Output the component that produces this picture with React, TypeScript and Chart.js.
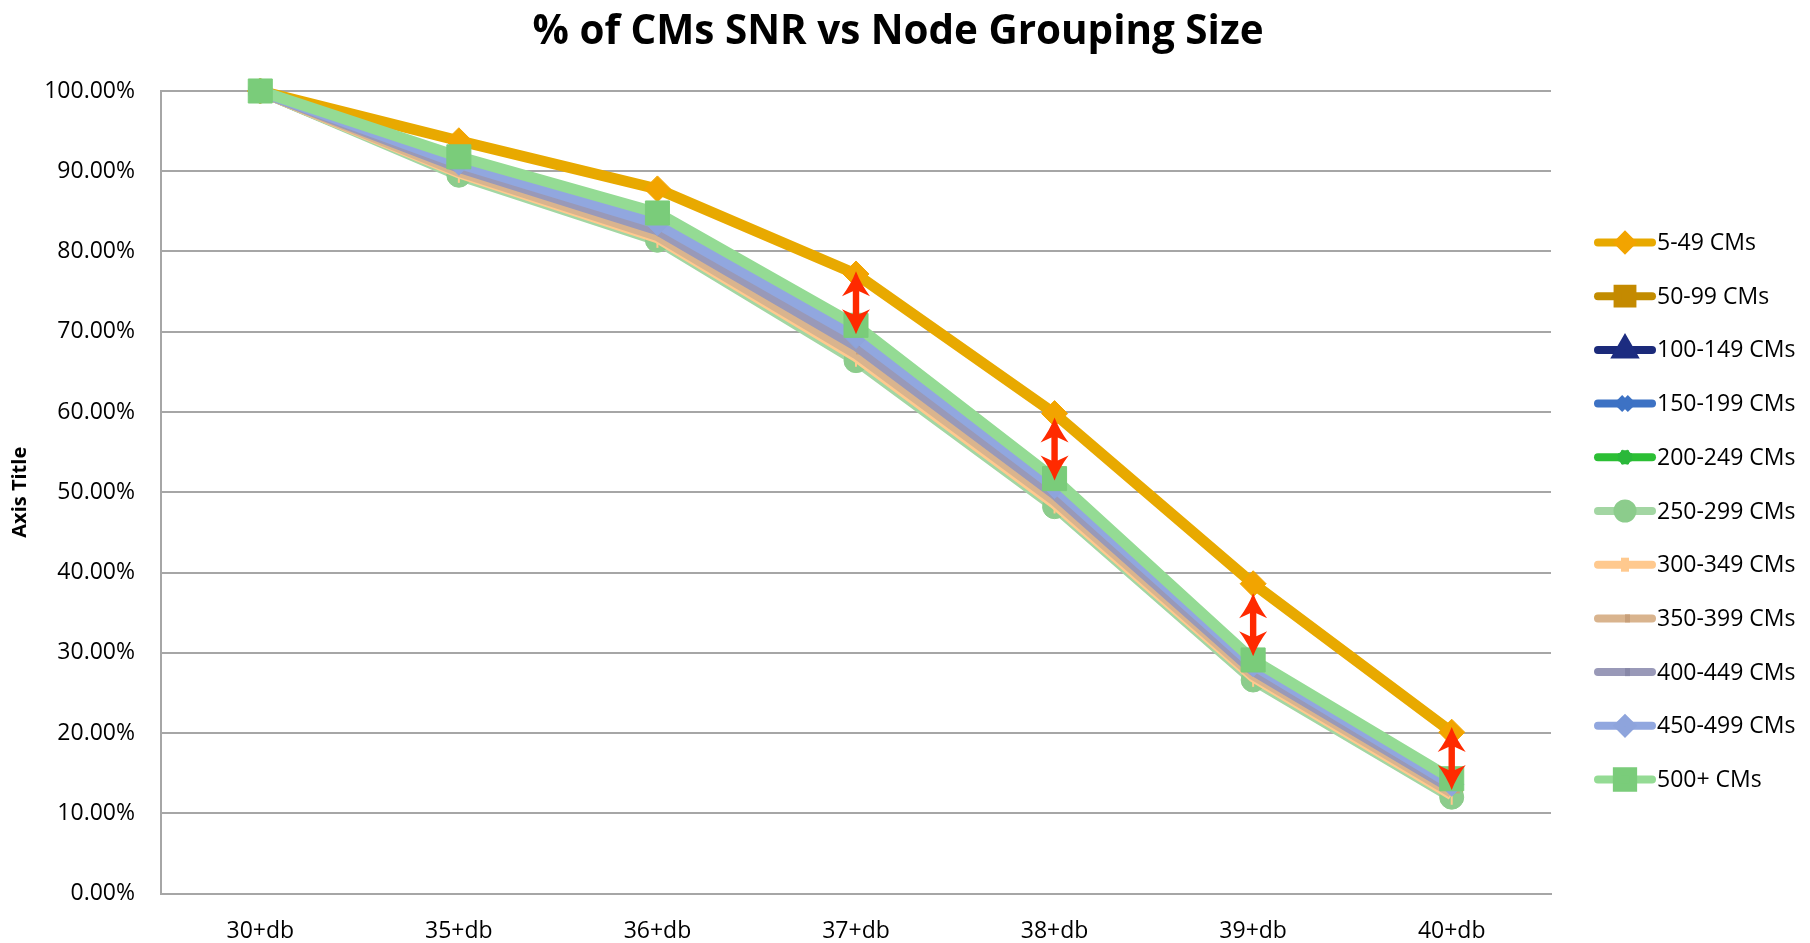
import React, { useEffect, useRef } from "react";
import { Chart, registerables } from "chart.js";
import { drawPoint } from "chart.js/helpers";

Chart.register(...registerables);

const TITLE = "% of CMs SNR vs Node Grouping Size";
const Y_AXIS_TITLE = "Axis Title";
const categories = ["30+db", "35+db", "36+db", "37+db", "38+db", "39+db", "40+db"];
const yTicks = [0, 10, 20, 30, 40, 50, 60, 70, 80, 90, 100];

const seriesNames = [
  "5-49 CMs", "50-99 CMs", "100-149 CMs", "150-199 CMs", "200-249 CMs",
  "250-299 CMs", "300-349 CMs", "350-399 CMs", "400-449 CMs", "450-499 CMs", "500+ CMs",
];

const s5_49 = [100, 93.8, 87.8, 77.2, 59.8, 38.6, 20.1];
const s50_99 = [100, 90.2, 82.2, 67.6, 49.2, 27.3, 12.7];
const s100_149 = [100, 89.7, 81.6, 66.7, 48.5, 26.8, 12.2];
const s150_199 = [100, 90.4, 82.5, 68.0, 49.6, 27.6, 13.0];
const s200_249 = [100, 90.6, 82.9, 68.6, 50.1, 28.0, 13.3];
const s250_299 = [100, 89.5, 81.4, 66.4, 48.2, 26.6, 12.0];
const s300_349 = [100, 89.8, 81.7, 66.9, 48.6, 27.0, 12.3];
const s350_399 = [100, 90.0, 82.0, 67.3, 49.0, 27.3, 12.6];
const s400_449 = [100, 90.5, 82.7, 68.3, 49.8, 27.8, 13.1];
const s450_499 = [100, 91.0, 83.5, 69.4, 50.7, 28.5, 13.6];
const s500plus = [100, 91.8, 84.8, 70.8, 51.7, 29.1, 14.3];

const seriesValues = [
  s5_49, s50_99, s100_149, s150_199, s200_249, s250_299,
  s300_349, s350_399, s400_449, s450_499, s500plus,
];

// double arrows between the first and last series at these categories
const arrowCategories = ["37+db", "38+db", "39+db", "40+db"];

const lineColors = [
  "#e8a900", "#c28c00", "#1b2a7a", "#3d72c4", "#2cbf35", "#a3d6a3",
  "#ffc98e", "#d9b48e", "#9999b8", "#91a7df", "#94db94",
];
const markerFill = [
  "#f2a400", "#c48a00", "#1c2c80", "#3d72c4", "#2ab83a", "#8ccc8c",
  "#ffc98e", "#c8a07a", "#8888a8", "#8ea4dc", "#7acc7a",
];
const markerStyle: any[] = [
  "rectRot", "rect", "triangle", "crossRot", "star", "circle",
  "line", "dash", "dash", "rectRot", "rect",
];
const markerRadius = [13, 15, 12, 10, 10, 12, 10, 8, 8, 12, 17];
const markerRotation = [0, 0, 0, 0, 0, 0, 90, 0, 0, 0, 0];
const legendRadius = [6.5, 10.5, 9, 8, 7, 7.5, 7, 5, 5, 6.5, 11.5];

const FONT = "'Open Sans', 'DejaVu Sans', sans-serif";

const titlePlugin = {
  id: "customTitle",
  afterDraw(chart: any) {
    const ctx = chart.ctx;
    ctx.save();
    ctx.font = `bold 42px ${FONT}`;
    ctx.fillStyle = "#000";
    ctx.textAlign = "center";
    ctx.textBaseline = "alphabetic";
    const w = ctx.measureText(TITLE).width;
    const sx = Math.min(1, 731 / w);
    ctx.translate(898, 44);
    ctx.scale(sx, 1);
    ctx.fillText(TITLE, 0, 0);
    ctx.restore();
  },
};

const legendPlugin = {
  id: "customLegend",
  afterDraw(chart: any) {
    const ctx = chart.ctx;
    ctx.save();
    const x1 = 1598, x2 = 1652, xm = 1625;
    const y0 = 242.5, dy = 53.7;
    chart.data.datasets.forEach((ds: any, i: number) => {
      const y = y0 + i * dy;
      ctx.beginPath();
      ctx.strokeStyle = lineColors[i];
      ctx.lineWidth = 8;
      ctx.lineCap = "round";
      ctx.moveTo(x1, y);
      ctx.lineTo(x2, y);
      ctx.stroke();
      ctx.lineCap = "butt";
      ctx.fillStyle = markerFill[i];
      ctx.strokeStyle = markerFill[i];
      drawPoint(ctx, {
        pointStyle: markerStyle[i],
        radius: legendRadius[i],
        rotation: markerRotation[i],
        borderWidth: 1.5,
      } as any, xm, y);
      ctx.fillStyle = "#000";
      ctx.font = `23px ${FONT}`;
      ctx.textAlign = "left";
      ctx.textBaseline = "middle";
      ctx.fillText(ds.label, 1657, y + 1);
    });
    ctx.restore();
  },
};

const arrowPlugin = {
  id: "arrows",
  afterDatasetsDraw(chart: any) {
    const ctx = chart.ctx;
    const xs = chart.scales.x;
    const ys = chart.scales.y;
    const top = seriesValues[0];
    const bot = seriesValues[seriesValues.length - 1];
    ctx.save();
    ctx.fillStyle = "#ff2a00";
    arrowCategories.forEach((c) => {
      const idx = categories.indexOf(c);
      const x = xs.getPixelForValue(idx);
      const mid = (ys.getPixelForValue(top[idx]) + ys.getPixelForValue(bot[idx])) / 2 + 3;
      const half = 31.5;
      const ya = mid - half;
      const yb = mid + half;
      const hw = 14, hh = 25, sw = 3.2, notch = 20;
      ctx.beginPath();
      ctx.moveTo(x, ya);
      ctx.quadraticCurveTo(x + 5, ya + 13, x + hw, ya + hh);
      ctx.lineTo(x + sw, ya + notch);
      ctx.lineTo(x + sw, yb - notch);
      ctx.lineTo(x + hw, yb - hh);
      ctx.quadraticCurveTo(x + 5, yb - 13, x, yb);
      ctx.quadraticCurveTo(x - 5, yb - 13, x - hw, yb - hh);
      ctx.lineTo(x - sw, yb - notch);
      ctx.lineTo(x - sw, ya + notch);
      ctx.lineTo(x - hw, ya + hh);
      ctx.quadraticCurveTo(x - 5, ya + 13, x, ya);
      ctx.closePath();
      ctx.fill();
    });
    ctx.restore();
  },
};

export default function App() {
  const ref = useRef<HTMLCanvasElement | null>(null);
  useEffect(() => {
    if (!ref.current) return;
    const n = seriesNames.length;
    const chart = new Chart(ref.current, {
      type: "line",
      data: {
        labels: categories,
        datasets: seriesNames.map((name, i) => ({
          label: name,
          data: seriesValues[i],
          borderColor: lineColors[i],
          backgroundColor: markerFill[i],
          borderWidth: 11,
          tension: 0,
          pointStyle: markerStyle[i],
          pointRadius: markerRadius[i],
          pointRotation: markerRotation[i],
          pointBackgroundColor: markerFill[i],
          pointBorderColor: markerFill[i],
          pointBorderWidth: markerStyle[i] === "line" || markerStyle[i] === "dash" || markerStyle[i] === "crossRot" || markerStyle[i] === "star" ? 2 : 1,
          pointHoverRadius: markerRadius[i],
          order: n - i,
          clip: false as any,
        })),
      },
      options: {
        responsive: false,
        animation: false,
        devicePixelRatio: 1,
        layout: { padding: { top: 91, right: 259, bottom: 0, left: 0 } },
        plugins: {
          legend: { display: false },
          title: { display: false },
          tooltip: { enabled: false },
        },
        scales: {
          x: {
            type: "category",
            offset: true,
            grid: { display: false, drawTicks: false },
            border: { display: true, color: "#a6a6a6", width: 2 },
            ticks: {
              color: "#000",
              font: { family: FONT, size: 23 },
              padding: 24,
              maxRotation: 0,
            },
            afterFit(scale: any) {
              scale.height = 49.5;
            },
          },
          y: {
            min: 0,
            max: 100,
            afterBuildTicks(scale: any) {
              scale.ticks = yTicks.map((v) => ({ value: v }));
            },
            grid: { color: "#a6a6a6", lineWidth: 2, drawTicks: false },
            border: { display: true, color: "#a6a6a6", width: 2 },
            ticks: {
              color: "#000",
              font: { family: FONT, size: 23 },
              padding: 26,
              callback: (v: any) => Number(v).toFixed(2) + "%",
            },
            title: {
              display: true,
              text: Y_AXIS_TITLE,
              color: "#000",
              font: { family: FONT, size: 20, weight: "bold" },
              padding: { top: 8, bottom: 0 },
            },
            afterFit(scale: any) {
              scale.width = 161;
            },
          },
        },
      },
      plugins: [titlePlugin, legendPlugin, arrowPlugin],
    } as any);
    return () => chart.destroy();
  }, []);
  return (
    <div style={{ position: "absolute", left: 0, top: 0, width: 1810, height: 943, background: "#fff" }}>
      <canvas ref={ref} width={1810} height={943} style={{ width: 1810, height: 943 }} />
    </div>
  );
}
